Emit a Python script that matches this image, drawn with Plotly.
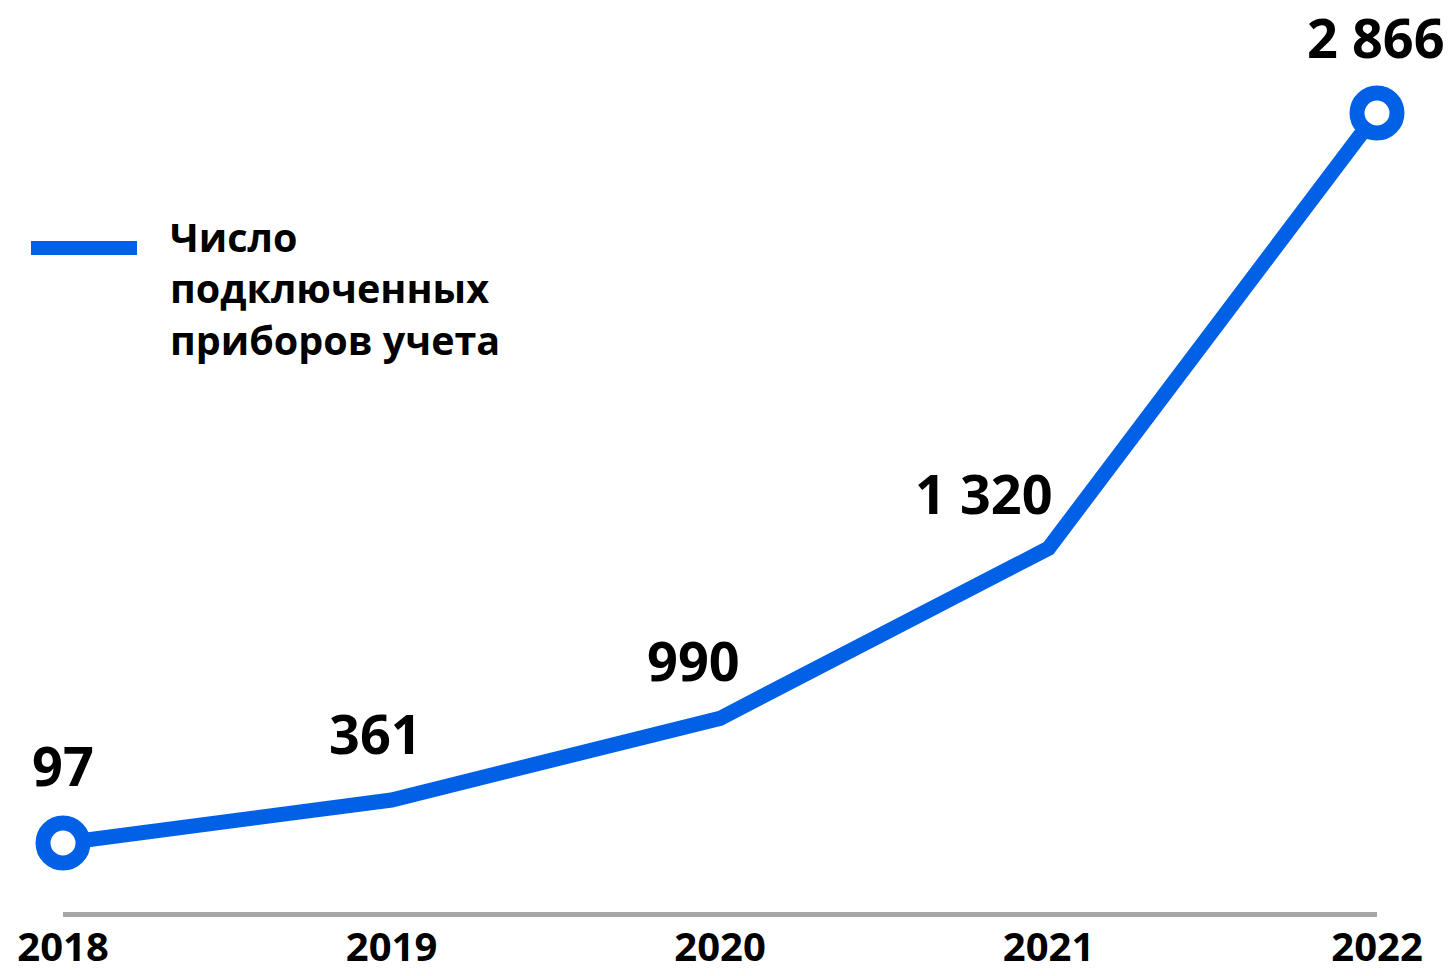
import plotly.graph_objects as go

# ---- data ----
years = [2018, 2019, 2020, 2021, 2022]
counts = [97, 361, 990, 1320, 2866]
count_labels = ["97", "361", "990", "1 320", "2 866"]
# height of the drawn line as it appears in the picture (in count units)
line_level = [97, 260, 570, 1215, 2866]
tick_labels = ["2018", "2019", "2020", "2021", "2022"]
series_name = "Число<br>подключенных<br>приборов учета"

BLUE = "#0061E6"
GRAY = "#A6A6A6"
FONT = "Open Sans"

W, H = 1453, 976
ML, MR, MT, MB = 63, 76, 0, 64
PW, PH = W - ML - MR, H - MT - MB


def px(x):
    return (x - ML) / PW


def py(y):
    return (H - MB - y) / PH


fig = go.Figure()
fig.add_trace(go.Scatter(
    x=years, y=line_level, mode="lines",
    line=dict(color=BLUE, width=15),
    cliponaxis=False, showlegend=False, hoverinfo="skip"))
fig.add_trace(go.Scatter(
    x=[years[0], years[-1]], y=[line_level[0], line_level[-1]], mode="markers",
    marker=dict(size=40, color="white", line=dict(color=BLUE, width=15)),
    cliponaxis=False, showlegend=False, hoverinfo="skip"))

# data labels
shifts = [(0, 78), (-16, 67), (-27, 58), (-65, 55), (-1, 76)]
for xv, yv, t, (dx, dy) in zip(years, line_level, count_labels, shifts):
    fig.add_annotation(x=xv, y=yv, text=t, showarrow=False,
                       xshift=dx, yshift=dy,
                       font=dict(family=FONT, size=54, color="black", weight="bold"))

# legend (drawn manually)
fig.add_shape(type="line", xref="paper", yref="paper",
              x0=px(31), x1=px(137), y0=py(248), y1=py(248),
              line=dict(color=BLUE, width=14))
fig.add_annotation(xref="paper", yref="paper", x=px(168), y=py(208),
                   xanchor="left", yanchor="top", align="left",
                   text=series_name, showarrow=False,
                   font=dict(family=FONT, size=39.5, color="black", weight="bold"))

fig.update_layout(
    width=W, height=H,
    margin=dict(l=ML, r=MR, t=MT, b=MB, pad=0, autoexpand=False),
    paper_bgcolor="white", plot_bgcolor="white",
    xaxis=dict(range=[2018, 2022], tickvals=years, ticktext=tick_labels,
               showgrid=False, zeroline=False, showline=True, automargin=False,
               linecolor=GRAY, linewidth=5, ticks="", ticklabelstandoff=-4,
               tickfont=dict(family=FONT, size=40, color="black", weight="bold")),
    yaxis=dict(range=[-164.7, 3294.6], visible=False, automargin=False),
    showlegend=False,
)

fig.write_html("out.html")
